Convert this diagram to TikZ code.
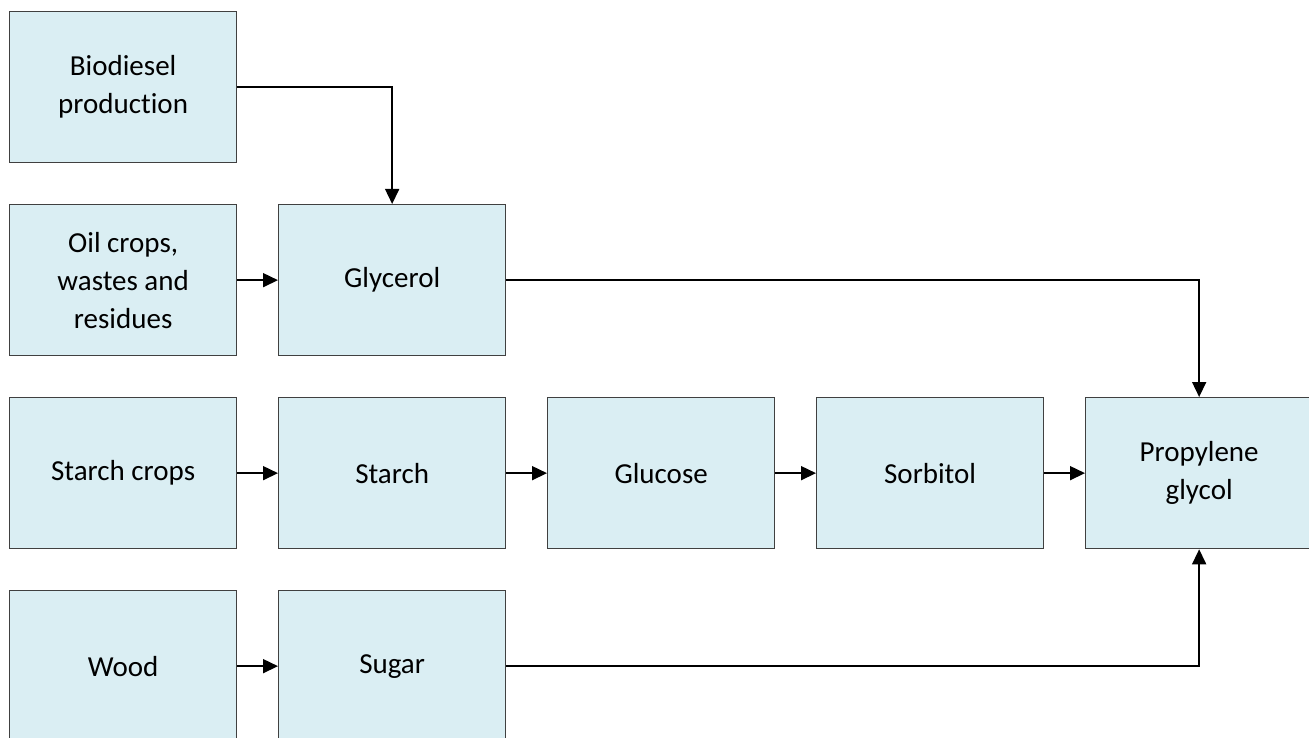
\documentclass[tikz,border=0pt]{standalone}
\usepackage{fontspec}
\setmainfont{Carlito}[RawFeature=-liga]
\usetikzlibrary{arrows.meta}
\definecolor{boxfill}{RGB}{218,238,243}
\definecolor{boxline}{RGB}{64,64,64}
\begin{document}
\begin{tikzpicture}[x=1pt,y=-1pt,
  box/.style={draw=boxline, fill=boxfill, line width=1.3pt, minimum width=227pt, minimum height=151pt, inner sep=0pt, anchor=north west, align=center, font=\fontsize{29}{38}\selectfont},
  arr/.style={draw=black, line width=1.6pt, -{Triangle[length=15pt,width=14pt]}}]
\useasboundingbox (0,0) rectangle (1309,738);
\node[box] (bio) at (9,11) {Biodiesel\\production};
\node[box] (oil) at (9,204) {Oil crops,\\wastes and\\residues};
\node[box] (gly) at (278,204) {Glycerol};
\node[box] (sc) at (9,397) {Starch crops};
\node[box] (st) at (278,397) {Starch};
\node[box] (glu) at (547,397) {Glucose};
\node[box] (sor) at (816,397) {Sorbitol};
\node[box] (pg) at (1085,397) {Propylene\\glycol};
\node[box] (wood) at (9,590) {Wood};
\node[box] (sug) at (278,590) {Sugar};
\draw[arr] (bio.east) -| (gly.north);
\draw[arr] (oil.east) -- (gly.west);
\draw[arr] (gly.east) -| (pg.north);
\draw[arr] (sc.east) -- (st.west);
\draw[arr] (st.east) -- (glu.west);
\draw[arr] (glu.east) -- (sor.west);
\draw[arr] (sor.east) -- (pg.west);
\draw[arr] (wood.east) -- (sug.west);
\draw[arr] (sug.east) -| (pg.south);
\end{tikzpicture}
\end{document}
